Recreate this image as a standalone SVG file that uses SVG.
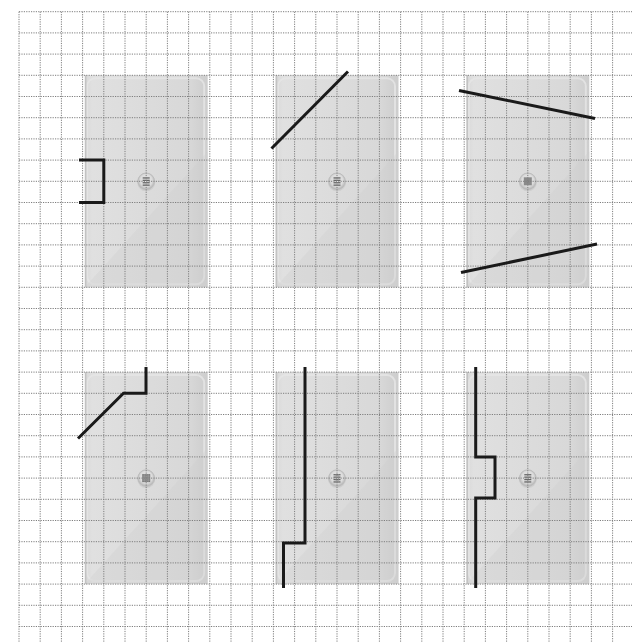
<svg xmlns="http://www.w3.org/2000/svg" width="632" height="642" viewBox="0 0 632 642">
<style>
.grid{fill:none;stroke:#7e7e7e;stroke-width:1;stroke-dasharray:1.2 1.2}
.cut{fill:none;stroke:#1a1a1a;stroke-width:3;stroke-linejoin:miter;stroke-linecap:butt}
</style>
<defs>
<linearGradient id="pg" x1="0" y1="0" x2="1" y2="0">
<stop offset="0" stop-color="#d8d8d8"/>
<stop offset="0.06" stop-color="#e0e0e0"/>
<stop offset="0.85" stop-color="#d8d8d8"/>
<stop offset="1" stop-color="#cdcdcd"/>
</linearGradient>
<radialGradient id="kg" cx="0.5" cy="0.45" r="0.55">
<stop offset="0" stop-color="#e8e8e8"/>
<stop offset="0.65" stop-color="#dcdcdc"/>
<stop offset="1" stop-color="#b0b0b0"/>
</radialGradient>
<g id="panel">
<rect x="-61.5" y="-106" width="123" height="212" fill="url(#pg)"/>
<rect x="-59" y="-103" width="117" height="206" rx="8" fill="none" stroke="#e6e6e6" stroke-width="2" opacity="0.8"/>
<polygon points="-61.5,106 61.5,-30 61.5,106" fill="#cfcfcf" opacity="0.35"/>
<line x1="-60.5" y1="-106" x2="-60.5" y2="106" stroke="#c2c2c2" stroke-width="1.5"/>
<circle cx="0" cy="1" r="9" fill="#c4c4c4" opacity="0.6"/>
<circle cx="0" cy="0" r="8.3" fill="url(#kg)" stroke="#bdbdbd" stroke-width="1"/>
</g>
<g id="stripes">
<rect x="-3.5" y="-4" width="7" height="1.3" fill="#666"/>
<rect x="-3.5" y="-1.6" width="7" height="1.3" fill="#666"/>
<rect x="-3.5" y="0.8" width="7" height="1.3" fill="#666"/>
<rect x="-3.5" y="3.2" width="7" height="1.3" fill="#666"/>
</g>
</defs>
<g id="panels">
<g id="panel1" transform="translate(146.2,181.3)"><use href="#panel"/><use href="#stripes"/></g>
<g id="panel2" transform="translate(337,181.3)"><use href="#panel"/><use href="#stripes"/></g>
<g id="panel3" transform="translate(527.8,181.3)"><use href="#panel"/><rect x="-4" y="-4" width="8" height="8" fill="#8a8a8a"/></g>
<g id="panel4" transform="translate(146.2,478.1)"><use href="#panel"/><rect x="-4" y="-4" width="8" height="8" fill="#777"/><path d="M-4,-2H4M-4,0H4M-4,2H4M-2,-4V4M0,-4V4M2,-4V4" stroke="#aaa" stroke-width="0.6"/></g>
<g id="panel5" transform="translate(337,478.1)"><use href="#panel"/><use href="#stripes"/><path d="M-1,-4V4.5M1.5,-4V4.5" stroke="#999" stroke-width="0.6"/></g>
<g id="panel6" transform="translate(527.8,478.1)"><use href="#panel"/><use href="#stripes"/></g>
</g>
<g id="grid">
<path class="grid" d="M19,11.7V642M40.2,11.7V642M61.4,11.7V642M82.6,11.7V642M103.8,11.7V642M125,11.7V642M146.2,11.7V642M167.4,11.7V642M188.6,11.7V642M209.8,11.7V642M231,11.7V642M252.2,11.7V642M273.4,11.7V642M294.6,11.7V642M315.8,11.7V642M337,11.7V642M358.2,11.7V642M379.4,11.7V642M400.6,11.7V642M421.8,11.7V642M443,11.7V642M464.2,11.7V642M485.4,11.7V642M506.6,11.7V642M527.8,11.7V642M549,11.7V642M570.2,11.7V642M591.4,11.7V642M612.6,11.7V642"/>
<path class="grid" d="M19,11.7H632M19,32.9H632M19,54.1H632M19,75.3H632M19,96.5H632M19,117.7H632M19,138.9H632M19,160.1H632M19,181.3H632M19,202.5H632M19,223.7H632M19,244.9H632M19,266.1H632M19,287.3H632M19,308.5H632M19,329.7H632M19,350.9H632M19,372.1H632M19,393.3H632M19,414.5H632M19,435.7H632M19,456.9H632M19,478.1H632M19,499.3H632M19,520.5H632M19,541.7H632M19,562.9H632M19,584.1H632M19,605.3H632M19,626.5H632"/>
</g>
<g id="connectors">
<path class="cut" d="M79,160.1H103.8V202.5H79"/>
<path class="cut" d="M271.5,148.5L348,71.5"/>
<path class="cut" d="M459,90.5L595,118.5"/>
<path class="cut" d="M461,272.5L597,244"/>
<path class="cut" d="M78,438.5L123.5,393.3H146V367"/>
<path class="cut" d="M305,367V543H283.5V588"/>
<path class="cut" d="M475.7,367V456.9H495V498H475.7V588"/>
</g>
</svg>
